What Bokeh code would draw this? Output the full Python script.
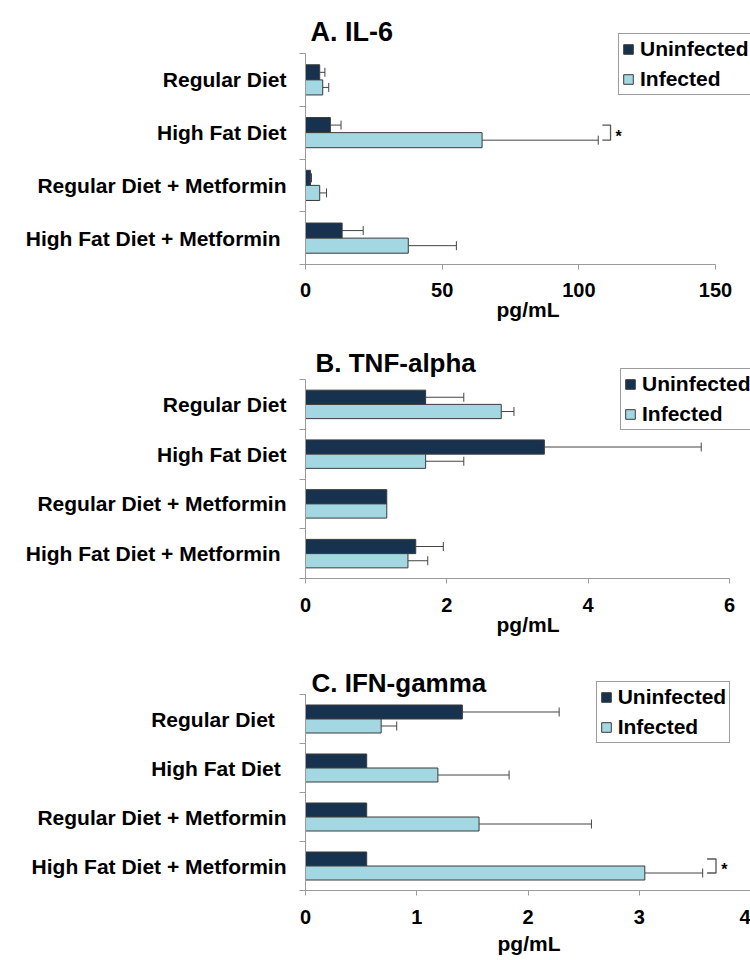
import numpy as np
from bokeh.plotting import figure
from bokeh.layouts import column
from bokeh.models import (Range1d, FixedTicker, Whisker, TeeHead, ColumnDataSource,
                          Legend, LegendItem, Label)
from bokeh.core.properties import value
from bokeh.embed import file_html
from bokeh.resources import INLINE

# ---------------- data ----------------
series_names = ["Uninfected", "Infected"]

cats_A = ["Regular Diet", "High Fat Diet", "Regular Diet + Metformin", "High Fat Diet  + Metformin"]
il6_uninf = [5.2, 9.1, 1.8, 13.4]
il6_uninf_err = [1.9, 3.9, 0.4, 7.7]
il6_inf = [6.3, 64.6, 5.2, 37.6]
il6_inf_err = [2.2, 42.5, 2.5, 17.6]
ticks_A = [0, 50, 100, 150]
sig_A = [1]

cats_B = ["Regular Diet", "High Fat Diet", "Regular Diet + Metformin", "High Fat Diet  + Metformin"]
tnf_uninf = [1.70, 3.38, 1.15, 1.56]
tnf_uninf_err = [0.54, 2.22, 0.0, 0.39]
tnf_inf = [2.77, 1.70, 1.15, 1.45]
tnf_inf_err = [0.18, 0.54, 0.0, 0.28]
ticks_B = [0, 2, 4, 6]
sig_B = []

cats_C = ["Regular Diet  ", "High Fat Diet ", "Regular Diet + Metformin", "High Fat Diet + Metformin"]
ifn_uninf = [1.41, 0.55, 0.55, 0.55]
ifn_uninf_err = [0.87, 0.0, 0.0, 0.0]
ifn_inf = [0.68, 1.19, 1.56, 3.05]
ifn_inf_err = [0.14, 0.64, 1.01, 0.52]
ticks_C = [0, 1, 2, 3, 4]
sig_C = [3]

# ---------------- style ----------------
FONT = "Liberation Sans"
DARK = "#17324F"
LIGHT = "#A3D8E3"
AXIS = "#9A9A9A"
EB = "#444444"
BAR_H = 0.286
RIGHT_EDGE = 750


def panel(title, title_size, cats, uninf, uninf_err, inf, inf_err, xticks, sig, g):
    n = len(cats)
    centers = np.arange(n) + 0.5
    half = BAR_H / 2
    xmax = xticks[-1]
    frame_bottom = g["ft"] + g["fh"]
    frame_w = RIGHT_EDGE - g["fl"]
    frame_h = frame_bottom - g["top"]
    x_end = xmax * frame_w / g["fw"]
    y_end = -(g["ft"] - g["top"]) / (g["fh"] / n)

    p = figure(frame_width=frame_w, frame_height=frame_h,
               x_range=Range1d(0, x_end), y_range=Range1d(n, y_end),
               min_border_left=g["fl"], min_border_right=0,
               min_border_top=0,
               min_border_bottom=g["bottom"] - frame_bottom,
               title=None, output_backend="svg", toolbar_location=None)
    p.outline_line_color = None
    p.xgrid.visible = False
    p.ygrid.visible = False
    p.background_fill_color = "white"

    renderers = []
    for vals, errs, color, sign in [(uninf, uninf_err, DARK, -1), (inf, inf_err, LIGHT, 1)]:
        vals = np.array(vals, dtype=float)
        errs = np.array(errs, dtype=float)
        ys = centers + sign * half
        src = ColumnDataSource(dict(y=ys, x=vals))
        r = p.hbar(y="y", left=0, right="x", height=BAR_H, source=src,
                   fill_color=color, line_color="#3a3a3a", line_width=1)
        renderers.append(r)
        m = errs > 0
        wsrc = ColumnDataSource(dict(y=ys[m], lo=vals[m], hi=(vals + errs)[m]))
        w = Whisker(source=wsrc, base="y", lower="lo", upper="hi", dimension="width",
                    lower_head=None,
                    upper_head=TeeHead(size=9, line_color=EB, line_width=1),
                    line_color=EB, line_width=1)
        p.add_layout(w)

    for k in sig:
        yu = centers[k] - half
        yi = centers[k] + half
        hi = inf[k] + inf_err[k]
        x1 = hi + 0.01 * xmax
        x2 = hi + 0.03 * xmax
        p.line(x=[x1, x2, x2, x1], y=[yu, yu, yi, yi], line_color="#555555", line_width=1.3)
        p.text(x=[x2 + 0.012 * xmax], y=[centers[k] + 0.08], text=["*"],
               text_font=value(FONT), text_font_style="bold", text_font_size="16px",
               text_baseline="middle", text_align="left", text_color="black")

    # x axis
    xa = p.xaxis[0]
    xa.ticker = FixedTicker(ticks=xticks, minor_ticks=[])
    xa.bounds = (0, xmax)
    xa.axis_line_color = AXIS
    xa.major_tick_line_color = AXIS
    xa.major_tick_out = 5
    xa.major_tick_in = 0
    xa.minor_tick_line_color = None
    xa.major_label_text_font = FONT
    xa.major_label_text_font_style = "bold"
    xa.major_label_text_font_size = "20px"
    xa.major_label_text_color = "black"
    xa.major_label_standoff = g["xts"]
    xa.axis_label = "pg/mL"
    xa.axis_label_text_font = FONT
    xa.axis_label_text_font_style = "bold"
    xa.axis_label_text_font_size = "21px"
    xa.axis_label_text_color = "black"
    xa.axis_label_standoff = g["xls"]

    # y axis: labels at category centres, ticks at category boundaries
    ya = p.yaxis[0]
    ya.ticker = FixedTicker(ticks=[float(c) for c in centers], minor_ticks=list(range(n + 1)))
    ya.bounds = (0, n)
    ya.major_label_overrides = {float(c): lab for c, lab in zip(centers, cats)}
    ya.major_tick_line_color = None
    ya.major_tick_out = 0
    ya.major_tick_in = 0
    ya.minor_tick_line_color = AXIS
    ya.minor_tick_out = 6
    ya.minor_tick_in = 0
    ya.axis_line_color = AXIS
    ya.major_label_standoff = 13
    ya.major_label_text_font = FONT
    ya.major_label_text_font_style = "bold"
    ya.major_label_text_font_size = "21px"
    ya.major_label_text_color = "black"

    legend = Legend(items=[LegendItem(label=series_names[0], renderers=[renderers[0]]),
                           LegendItem(label=series_names[1], renderers=[renderers[1]])],
                    location=(g["lgx"] - g["fl"], frame_bottom - g["lgb"]),
                    orientation="vertical",
                    border_line_color="#3c3c3c", border_line_width=1.5,
                    background_fill_color="white", background_fill_alpha=1.0,
                    label_text_font=FONT, label_text_font_style="bold",
                    label_text_font_size="21px", label_text_color="black",
                    glyph_width=12, glyph_height=12, label_standoff=6,
                    padding=3, spacing=6, margin=0, label_height=20)
    p.add_layout(legend)

    p.add_layout(Label(x=g["tx"] - g["fl"], y=frame_bottom - g["tb"],
                       x_units="screen", y_units="screen", text=title,
                       text_font=FONT, text_font_style="bold", text_font_size=title_size,
                       text_baseline="alphabetic", text_align="left", text_color="black"))
    return p


gA = dict(fl=305, ft=53, fw=410, fh=211, top=0, bottom=327, xts=13, xls=-2,
          lgx=618, lgb=95, tx=310, tb=31)
gB = dict(fl=305, ft=379, fw=424, fh=199, top=327, bottom=642, xts=14, xls=-2,
          lgx=620, lgb=430, tx=315, tb=362)
gC = dict(fl=303, ft=694, fw=445, fh=196, top=642, bottom=960, xts=14, xls=5,
          lgx=613, lgb=743, tx=309, tb=682)

pA = panel("A. IL-6", "27px", cats_A, il6_uninf, il6_uninf_err, il6_inf, il6_inf_err,
           ticks_A, sig_A, gA)
pB = panel("B. TNF-alpha", "26px", cats_B, tnf_uninf, tnf_uninf_err, tnf_inf, tnf_inf_err,
           ticks_B, sig_B, gB)
pC = panel("C. IFN-gamma", "26px", cats_C, ifn_uninf, ifn_uninf_err, ifn_inf, ifn_inf_err,
           ticks_C, sig_C, gC)

layout = column(pA, pB, pC)
open("out.html", "w").write(file_html(layout, INLINE))
